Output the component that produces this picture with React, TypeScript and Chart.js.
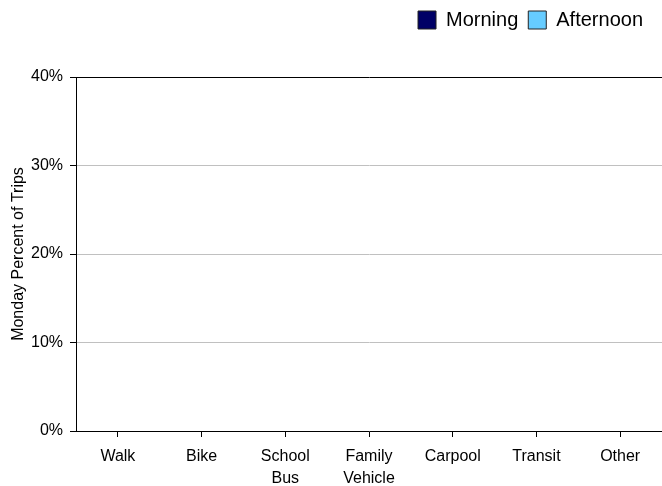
import React, { useEffect, useRef } from "react";
import { Chart, registerables } from "chart.js";

Chart.register(...registerables);

const categories: (string | string[])[] = ["Walk", "Bike", ["School", "Bus"], ["Family", "Vehicle"], "Carpool", "Transit", "Other"];
const morningValues: number[] = [0, 0, 0, 0, 0, 0, 0];
const afternoonValues: number[] = [0, 0, 0, 0, 0, 0, 0];
const yTicks: number[] = [0, 10, 20, 30, 40];

const FONT = "'Liberation Sans', Arial, sans-serif";

const legendShift = {
  id: "legendShift",
  afterLayout(chart: any) {
    if (chart.legend) chart.legend.right -= 9;
  },
};

export default function App() {
  const ref = useRef<HTMLCanvasElement | null>(null);
  useEffect(() => {
    if (!ref.current) return;
    const chart = new Chart(ref.current, {
      type: "bar",
      data: {
        labels: categories,
        datasets: [
          { label: "Morning", data: morningValues, backgroundColor: "#000066", borderColor: "#222222", borderWidth: 1 },
          { label: "Afternoon", data: afternoonValues, backgroundColor: "#66ccff", borderColor: "#222222", borderWidth: 1 },
        ],
      },
      plugins: [legendShift],
      options: {
        animation: false,
        responsive: false,
        maintainAspectRatio: false,
        layout: { padding: { top: 0, right: 0, bottom: 0, left: 0 } },
        plugins: {
          legend: {
            position: "top",
            align: "end",
            labels: {
              boxWidth: 18,
              boxHeight: 18,
              padding: 10,
              color: "#000",
              font: { family: FONT, size: 20 },
            },
          },
          subtitle: {
            display: true,
            text: "",
            weight: 500,
            font: { size: 1, lineHeight: 1 },
            padding: { top: 36, bottom: 0 },
          },
          tooltip: { enabled: false },
          title: { display: false },
        },
        scales: {
          x: {
            offset: true,
            grid: { offset: false, drawOnChartArea: false, drawTicks: true, tickLength: 6, color: "#000", tickColor: "#000" },
            border: { display: true, color: "#000", width: 1 },
            ticks: { color: "#000", font: { family: FONT, size: 16, lineHeight: 1.35 }, padding: 9, maxRotation: 0, autoSkip: false },
            afterFit: (s: any) => { s.height = 55; },
          },
          y: {
            min: 0,
            max: 40,
            afterBuildTicks: (s: any) => { s.ticks = yTicks.map((v) => ({ value: v })); },
            grid: {
              color: (ctx: any) => (ctx.tick && ctx.tick.value === 40 ? "#000" : "#c0c0c0"),
              tickColor: "#000",
              tickLength: 6,
            },
            border: { display: true, color: "#000", width: 1 },
            ticks: { color: "#000", font: { family: FONT, size: 16 }, padding: 7, callback: (v: any) => v + "%" },
            title: { display: true, text: "Monday Percent of Trips", color: "#000", font: { family: FONT, size: 16 }, padding: 9 },
            afterFit: (s: any) => { s.width = 76; },
          },
        },
      },
    });
    return () => chart.destroy();
  }, []);
  return (
    <div style={{ position: "fixed", left: 0, top: 0, width: 662, height: 486, background: "#fff" }}>
      <canvas ref={ref} width={662} height={486} style={{ display: "block" }} />
    </div>
  );
}
